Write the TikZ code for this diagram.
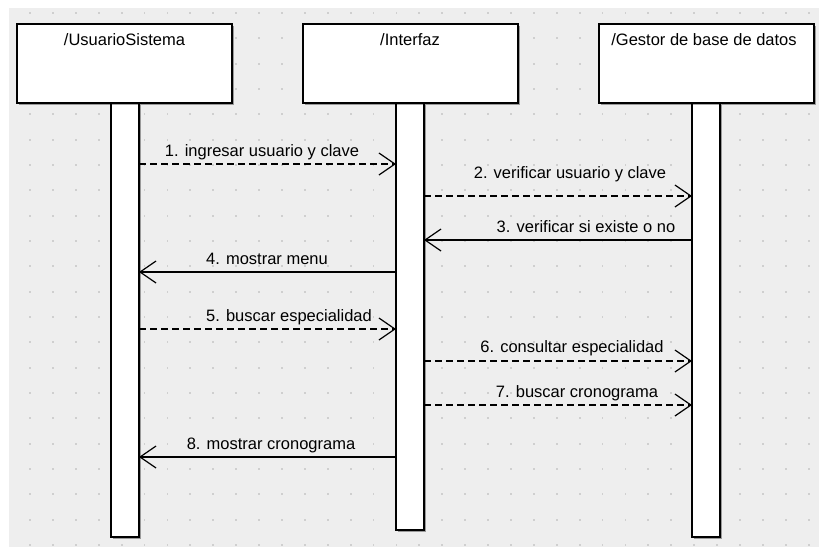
\documentclass[tikz,border=0pt]{standalone}
\usepackage{fontspec}
\setmainfont{Liberation Sans}
\usetikzlibrary{arrows.meta,shadows}
\definecolor{canvas}{HTML}{EEEEEE}
\definecolor{griddot}{HTML}{CFCFCF}
\tikzset{
  x=1pt, y=-1pt,
  lbl/.style={font=\fontsize{16.5}{19}\selectfont, inner sep=0pt, anchor=base},
  objbox/.style={draw=black, line width=1.3pt, fill=white, inner sep=0pt, outer sep=0pt,
    anchor=north west, minimum width=215pt, minimum height=79pt,
    drop shadow={shadow xshift=1.8pt, shadow yshift=-1.8pt, fill=black, opacity=0.35}},
  lifebar/.style={draw=black, line width=1.3pt, fill=white, inner sep=0pt, outer sep=0pt,
    anchor=north west, minimum width=28pt,
    drop shadow={shadow xshift=1.8pt, shadow yshift=-1.8pt, fill=black, opacity=0.35}},
  call/.style={line width=1.2pt, dash pattern=on 7pt off 4pt,
    -{Straight Barb[length=16pt, width=22pt, line width=1.2pt]}},
  reply/.style={line width=1.2pt,
    -{Straight Barb[length=16pt, width=22pt, line width=1.2pt]}},
}
\begin{document}
\begin{tikzpicture}
% page and canvas
\useasboundingbox (0,0) rectangle (819,547);
\fill[white] (0,0) rectangle (819,547);
\fill[canvas] (9,8) rectangle (819,547);
% dotted grid
\foreach \i in {0,...,34} {
  \foreach \j in {0,...,21} {
    \fill[griddot] ({30+22.9*\i-0.9},{13+25.33*\j-0.9}) rectangle ++(1.8,1.8);
  }
}

% activation bars
\node[lifebar, minimum height=434pt] (bar1) at (111,103) {};
\node[lifebar, minimum height=427pt] (bar2) at (396,103) {};
\node[lifebar, minimum height=434pt] (bar3) at (692,103) {};

% objects
\node[objbox] (obj1) at (17,24) {};
\node[objbox] (obj2) at (303,24) {};
\node[objbox] (obj3) at (599,24) {};
\node[lbl] (t1) at (124.5,45) {/UsuarioSistema};
\node[lbl] (t2) at (410,45) {/Interfaz};
\node[lbl] (t3) at (704,45) {/Gestor de base de datos};

% message end points
\coordinate (m1a) at (139,164); \coordinate (m1b) at (396,164);
\coordinate (m2a) at (424,196); \coordinate (m2b) at (692,196);
\coordinate (m3a) at (692,240); \coordinate (m3b) at (424,240);
\coordinate (m4a) at (396,272); \coordinate (m4b) at (139,272);
\coordinate (m5a) at (139,329); \coordinate (m5b) at (396,329);
\coordinate (m6a) at (424,361); \coordinate (m6b) at (692,361);
\coordinate (m7a) at (424,405); \coordinate (m7b) at (692,405);
\coordinate (m8a) at (396,457); \coordinate (m8b) at (139,457);

% messages
\draw[call]  (m1a) -- (m1b);
\draw[call]  (m2a) -- (m2b);
\draw[reply] (m3a) -- (m3b);
\draw[reply] (m4a) -- (m4b);
\draw[call]  (m5a) -- (m5b);
\draw[call]  (m6a) -- (m6b);
\draw[call]  (m7a) -- (m7b);
\draw[reply] (m8a) -- (m8b);

% message labels
\node[lbl] (l1) at (262,156) {1. ingresar usuario y clave};
\node[lbl] (l2) at (570,178) {2. verificar usuario y clave};
\node[lbl] (l3) at (586,232) {3. verificar si existe o no};
\node[lbl] (l4) at (267,264) {4. mostrar menu};
\node[lbl] (l5) at (289,321) {5. buscar especialidad};
\node[lbl] (l6) at (572,352) {6. consultar especialidad};
\node[lbl] (l7) at (577,397) {7. buscar cronograma};
\node[lbl] (l8) at (271,449) {8. mostrar cronograma};
\end{tikzpicture}
\end{document}
